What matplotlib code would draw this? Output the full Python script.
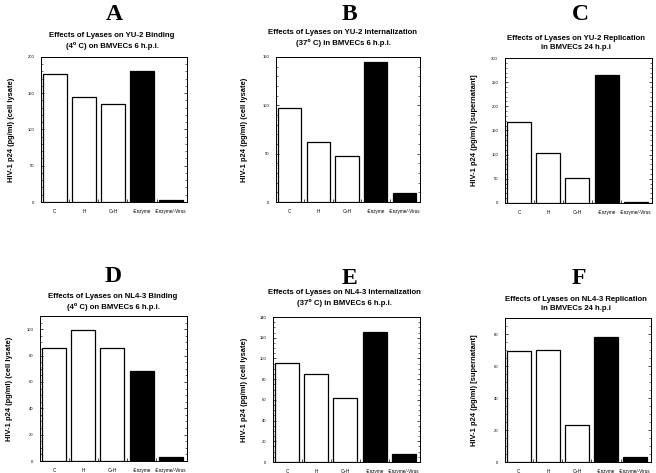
import matplotlib
matplotlib.use("Agg")
import matplotlib.pyplot as plt
from matplotlib.ticker import MultipleLocator, AutoMinorLocator

categories = ["C", "H", "C+H", "-Enzyme", "-Enzyme/-Virus"]
bar_colors = ["white", "white", "white", "black", "black"]

vals_A = [177, 145, 135, 180, 2.5]
vals_B = [97, 62, 48, 144.5, 9]
vals_C = [168, 103, 51, 264, 2]
vals_D = [85.5, 99.5, 85.8, 68.6, 3.3]
vals_E = [95.6, 85.3, 62.1, 126, 7.4]
vals_F = [69.4, 70, 23.4, 78.1, 2.9]

letters = ["A", "B", "C", "D", "E", "F"]
titles = [
    "Effects of Lyases on YU-2 Binding\n(4\u2070 C) on BMVECs 6 h.p.i.",
    "Effects of Lyases on YU-2 Internalization\n(37\u2070 C) in BMVECs 6 h.p.i.",
    "Effects of Lyases on YU-2 Replication\nin BMVECs 24 h.p.i",
    "Effects of Lyases on NL4-3 Binding\n(4\u2070 C) on BMVECs 6 h.p.i.",
    "Effects of Lyases on NL4-3 Internalization\n(37\u2070 C) in BMVECs 6 h.p.i.",
    "Effects of Lyases on NL4-3 Replication\nin BMVECs 24 h.p.i",
]
ylabels = [
    "HIV-1 p24 (pg/ml) (cell lysate)",
    "HIV-1 p24 (pg/ml) (cell lysate)",
    "HIV-1 p24 (pg/ml) [supernatant]",
    "HIV-1 p24 (pg/ml) (cell lysate)",
    "HIV-1 p24 (pg/ml) (cell lysate)",
    "HIV-1 p24 (pg/ml) [supernatant]",
]
ymax = [200, 150, 300, 110, 140, 90]
ystep = [50, 50, 50, 20, 20, 20]
values = [vals_A, vals_B, vals_C, vals_D, vals_E, vals_F]

W, H = 656, 473
fig = plt.figure(figsize=(W / 100, H / 100), dpi=100)
fig.patch.set_facecolor("white")

# pixel boxes: left, right, top, bottom
boxes = [
    (41, 187, 57, 202),
    (276, 420, 57, 202),
    (505, 652, 58, 203),
    (40, 187, 316, 461),
    (273, 420, 317, 462),
    (505, 651, 318, 462),
]
letter_pos = [(114, 14), (349, 14), (580, 14), (113, 277), (349, 279), (579, 279)]
title_pos = [(112, 41), (343, 38), (576, 43), (113, 302), (344, 298), (576, 304)]
ylab_x = [12, 245, 475, 10, 245, 475]

sans = ["Liberation Sans", "DejaVu Sans"]

for i in range(6):
    l, r, t, b = boxes[i]
    ax = fig.add_axes([l / W, 1 - b / H, (r - l) / W, (b - t) / H])
    x = list(range(len(categories)))
    ax.bar(x, values[i], width=0.82, color=bar_colors, edgecolor="black", linewidth=0.9)
    ax.set_xlim(-0.48, 4.55)
    ax.set_ylim(0, ymax[i])
    ax.yaxis.set_major_locator(MultipleLocator(ystep[i]))
    ax.yaxis.set_minor_locator(AutoMinorLocator(5 if ystep[i] == 50 else 4))
    ax.set_xticks(x)
    ax.set_xticklabels(categories, fontsize=3.3, family=sans)
    ax.set_xticks([k + 0.5 for k in range(4)], minor=True)
    ax.tick_params(axis="x", which="major", length=0, pad=5)
    ax.tick_params(axis="x", which="minor", length=2, width=0.5, direction="in", top=False)
    ax.tick_params(axis="y", which="major", length=2.5, width=0.5, direction="in",
                   right=True, labelsize=3.0, pad=5)
    ax.tick_params(axis="y", which="minor", length=1.3, width=0.4, direction="in", right=True)
    for lab in ax.get_yticklabels():
        lab.set_family(sans)
    for s in ax.spines.values():
        s.set_linewidth(0.7)

    lx, ly = letter_pos[i]
    fig.text(lx / W, 1 - ly / H, letters[i], ha="center", va="center",
             fontsize=17, fontweight="bold", family=["Liberation Serif", "DejaVu Serif"])
    tx, ty = title_pos[i]
    fig.text(tx / W, 1 - ty / H, titles[i], ha="center", va="center",
             fontsize=5.6, fontweight="bold", family=sans, linespacing=1.5)
    fig.text(ylab_x[i] / W, 1 - ((t + b) / 2) / H, ylabels[i], ha="center", va="center",
             rotation=90, fontsize=5.4, fontweight="bold", family=sans)

fig.savefig("out.png", dpi=100, facecolor="white")
